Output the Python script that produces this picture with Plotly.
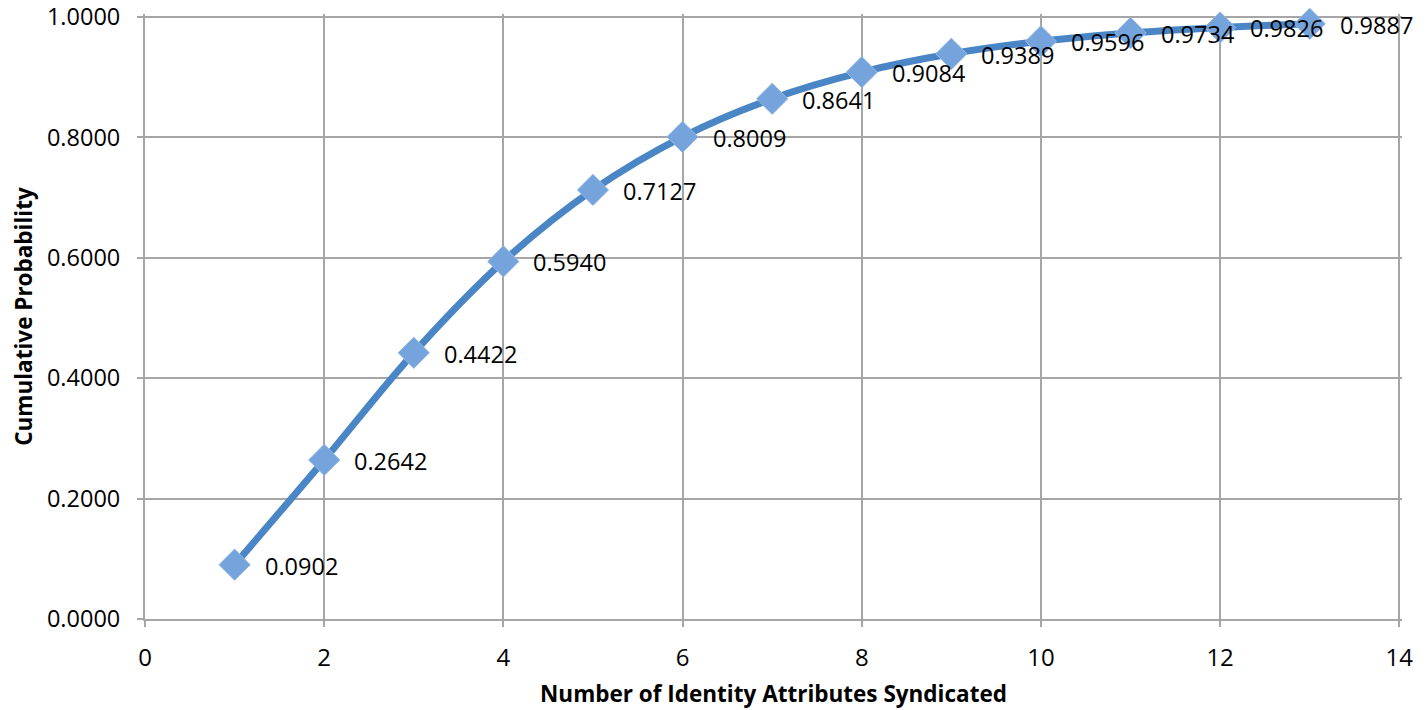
import plotly.graph_objects as go

attributes = [1, 2, 3, 4, 5, 6, 7, 8, 9, 10, 11, 12, 13]
cum_prob = [0.0902, 0.2642, 0.4422, 0.5940, 0.7127, 0.8009, 0.8641, 0.9084,
            0.9389, 0.9596, 0.9734, 0.9826, 0.9887]
labels = [f"{v:.4f}" for v in cum_prob]

FONT = "Open Sans"

fig = go.Figure()
fig.add_trace(go.Scatter(
    x=attributes, y=cum_prob, mode="lines+markers",
    line=dict(color="#4a86c6", width=7, shape="spline"),
    marker=dict(symbol="diamond", size=24, color="#75a3db",
                line=dict(color="#94b8e4", width=1)),
    hoverinfo="x+y", showlegend=False, cliponaxis=False,
))

for x, y, t in zip(attributes, cum_prob, labels):
    fig.add_annotation(x=x, y=y, text=t, showarrow=False, xanchor="left",
                       yanchor="middle", xshift=28, yshift=-1,
                       font=dict(family=FONT, size=23.5, color="#000000"))

fig.update_layout(
    width=1426, height=710,
    margin=dict(l=145, r=24, t=14, b=91),
    plot_bgcolor="white", paper_bgcolor="white",
    font=dict(family=FONT, size=22, color="#000000"),
)
fig.update_xaxes(
    range=[0, 14.03], dtick=2, tick0=0, automargin=False,
    showgrid=True, gridcolor="#a6a6a6", gridwidth=2,
    showline=True, linecolor="#a6a6a6", linewidth=2,
    ticks="outside", ticklen=6, tickcolor="#a6a6a6", tickwidth=2,
    ticklabelstandoff=10, ticklabeloverflow="allow",
    zeroline=False,
    title=dict(text="<b>Number of Identity Attributes Syndicated</b>",
               font=dict(family=FONT, size=22.5), standoff=14),
    tickfont=dict(family=FONT, size=24),
)
fig.update_yaxes(
    range=[0, 1.005], dtick=0.2, tick0=0, tickformat=".4f", automargin=False,
    showgrid=True, gridcolor="#a6a6a6", gridwidth=2,
    showline=True, linecolor="#a6a6a6", linewidth=2,
    ticks="outside", ticklen=6, tickcolor="#a6a6a6", tickwidth=2,
    ticklabelstandoff=12, ticklabeloverflow="allow",
    zeroline=False,
    title=dict(text="<b>Cumulative Probability</b>",
               font=dict(family=FONT, size=22.5), standoff=8),
    tickfont=dict(family=FONT, size=23.5),
)

fig.write_html("out.html", config={"displayModeBar": False},
               post_script="document.body.style.margin='0';")
